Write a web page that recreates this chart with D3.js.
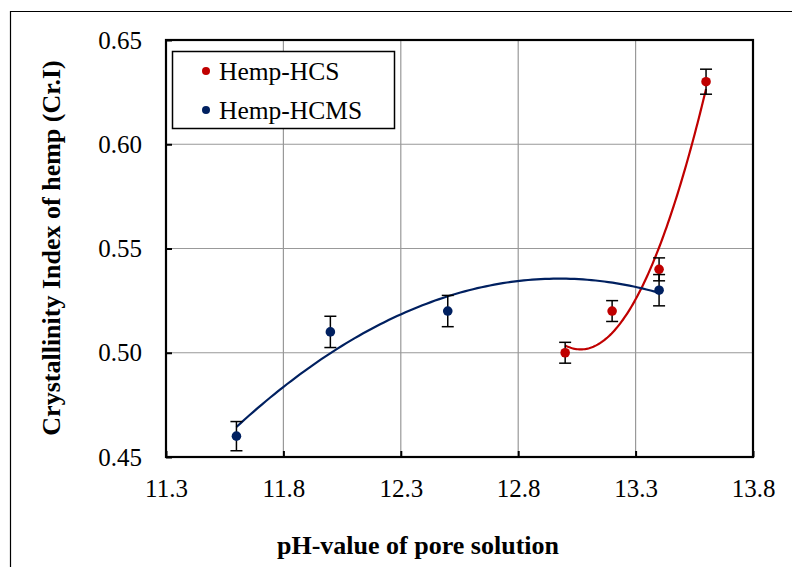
<!DOCTYPE html>
<html>
<head>
<meta charset="utf-8">
<script src="https://cdn.jsdelivr.net/npm/d3@7/dist/d3.min.js"></script>
<style>
  html, body { margin: 0; padding: 0; background: #fff; }
  svg { display: block; }
  svg text { font-family: "Liberation Serif", "Times New Roman", Tinos, Times, "DejaVu Serif", serif !important; }
</style>
</head>
<body>
<svg id="chart" width="792" height="567"></svg>
<script>
// pH of pore solution and crystallinity index, per mix
const hcsPH = [13.0, 13.2, 13.4, 13.6];
const hcsCrI = [0.50, 0.52, 0.54, 0.63];
const hcsErr = [0.005, 0.005, 0.0055, 0.006];

const hcmsPH = [11.6, 12.0, 12.5, 13.4];
const hcmsCrI = [0.46, 0.51, 0.52, 0.53];
const hcmsErr = [0.007, 0.0075, 0.0075, 0.0075];

const xTicks = [11.3, 11.8, 12.3, 12.8, 13.3, 13.8];
const yTicks = [0.45, 0.50, 0.55, 0.60, 0.65];

const seriesNames = ["Hemp-HCS", "Hemp-HCMS"];
const seriesColors = ["#C00000", "#002060"];

const FONT = "'Liberation Serif', 'Times New Roman', Tinos, Times, 'DejaVu Serif', serif";

const svg = d3.select("#chart");
const plot = { left: 166, right: 753, top: 40, bottom: 457 };

const x = d3.scaleLinear().domain([11.3, 13.8]).range([plot.left, plot.right]);
const y = d3.scaleLinear().domain([0.45, 0.65]).range([plot.bottom, plot.top]);

// outer frame
svg.append("path")
  .attr("d", "M10.5,567 V11.5 H792")
  .attr("fill", "none").attr("stroke", "#000").attr("stroke-width", 1.2);

// gridlines
const grid = svg.append("g");
grid.selectAll("line.gx").data(xTicks.slice(1, -1)).join("line")
  .attr("x1", d => x(d)).attr("x2", d => x(d))
  .attr("y1", plot.top).attr("y2", plot.bottom)
  .attr("stroke", "#999").attr("stroke-width", 1.2);
grid.selectAll("line.gy").data(yTicks.slice(1, -1)).join("line")
  .attr("x1", plot.left).attr("x2", plot.right)
  .attr("y1", d => y(d)).attr("y2", d => y(d))
  .attr("stroke", "#999").attr("stroke-width", 1.2);

// axes with short inward ticks
const xAxis = svg.append("g").attr("transform", `translate(0,${plot.bottom})`)
  .call(d3.axisBottom(x).tickValues(xTicks).tickSize(-6).tickPadding(22).tickFormat(d3.format(".1f")));
const yAxis = svg.append("g").attr("transform", `translate(${plot.left},0)`)
  .call(d3.axisLeft(y).tickValues(yTicks).tickSize(-6).tickPadding(24).tickFormat(d3.format(".2f")));
[xAxis, yAxis].forEach(a => {
  a.attr("font-family", FONT).attr("font-size", 25);
  a.select(".domain").remove();
  a.selectAll(".tick line").attr("stroke", "#000").attr("stroke-width", 2);
  a.selectAll(".tick text").attr("fill", "#000");
});

// plot border
svg.append("rect")
  .attr("x", plot.left).attr("y", plot.top)
  .attr("width", plot.right - plot.left).attr("height", plot.bottom - plot.top)
  .attr("fill", "none").attr("stroke", "#000").attr("stroke-width", 2.2);

// least-squares quadratic trendline
function quadFit(xs, ys) {
  const n = xs.length, m = d3.mean(xs);
  const t = xs.map(v => v - m);
  const S = k => d3.sum(t, v => Math.pow(v, k));
  const Sy = k => d3.sum(t, (v, i) => Math.pow(v, k) * ys[i]);
  const A = [[n, S(1), S(2)], [S(1), S(2), S(3)], [S(2), S(3), S(4)]];
  const B = [Sy(0), Sy(1), Sy(2)];
  const det = M => M[0][0]*(M[1][1]*M[2][2]-M[1][2]*M[2][1]) - M[0][1]*(M[1][0]*M[2][2]-M[1][2]*M[2][0]) + M[0][2]*(M[1][0]*M[2][1]-M[1][1]*M[2][0]);
  const D = det(A);
  const coef = [0, 1, 2].map(j => det(A.map((row, i) => row.map((v, k) => k === j ? B[i] : v))) / D);
  return v => coef[0] + coef[1] * (v - m) + coef[2] * (v - m) * (v - m);
}

const series = [
  { ph: hcsPH, cri: hcsCrI, err: hcsErr },
  { ph: hcmsPH, cri: hcmsCrI, err: hcmsErr }
];

const line = d3.line().x(d => x(d[0])).y(d => y(d[1]));
series.forEach((s, si) => {
  const f = quadFit(s.ph, s.cri);
  const lo = d3.min(s.ph), hi = d3.max(s.ph);
  const pts = d3.range(0, 101).map(i => { const v = lo + (hi - lo) * i / 100; return [v, f(v)]; });
  svg.append("path").datum(pts).attr("d", line)
    .attr("fill", "none").attr("stroke", seriesColors[si]).attr("stroke-width", 2.2);
});

// error bars and markers
series.forEach((s, si) => {
  const g = svg.append("g");
  const rows = s.ph.map((p, i) => ({ p, v: s.cri[i], e: s.err[i] }));
  g.selectAll("line.bar").data(rows).join("line")
    .attr("x1", d => x(d.p)).attr("x2", d => x(d.p))
    .attr("y1", d => y(d.v + d.e)).attr("y2", d => y(d.v - d.e))
    .attr("stroke", "#000").attr("stroke-width", 1.5);
  ["+", "-"].forEach(sign => {
    g.selectAll("line.cap" + (sign === "+" ? "t" : "b")).data(rows).join("line")
      .attr("x1", d => x(d.p) - 6).attr("x2", d => x(d.p) + 6)
      .attr("y1", d => y(sign === "+" ? d.v + d.e : d.v - d.e))
      .attr("y2", d => y(sign === "+" ? d.v + d.e : d.v - d.e))
      .attr("stroke", "#000").attr("stroke-width", 1.5);
  });
  g.selectAll("circle").data(rows).join("circle")
    .attr("cx", d => x(d.p)).attr("cy", d => y(d.v)).attr("r", 4.8)
    .attr("fill", seriesColors[si]);
});

// legend
const lg = svg.append("g").attr("font-family", FONT);
lg.append("rect").attr("x", 172.5).attr("y", 51.5).attr("width", 222).attr("height", 77)
  .attr("fill", "#fff").attr("stroke", "#000").attr("stroke-width", 1.5);
seriesNames.forEach((name, i) => {
  const cy = 71 + i * 39;
  lg.append("circle").attr("cx", 206).attr("cy", cy).attr("r", 4).attr("fill", seriesColors[i]);
  lg.append("text").attr("x", 219).attr("y", cy).attr("dy", "0.35em")
    .attr("font-size", 25.5).attr("fill", "#000").text(name);
});

// axis titles
svg.append("text")
  .attr("x", 418).attr("y", 554).attr("text-anchor", "middle").attr("font-family", FONT)
  .attr("font-size", 26).attr("font-weight", "bold").text("pH-value of pore solution");
svg.append("text")
  .attr("transform", "translate(60,248) rotate(-90)").attr("text-anchor", "middle").attr("font-family", FONT)
  .attr("font-size", 26).attr("font-weight", "bold").text("Crystallinity Index of hemp (Cr.I)");
</script>
</body>
</html>
